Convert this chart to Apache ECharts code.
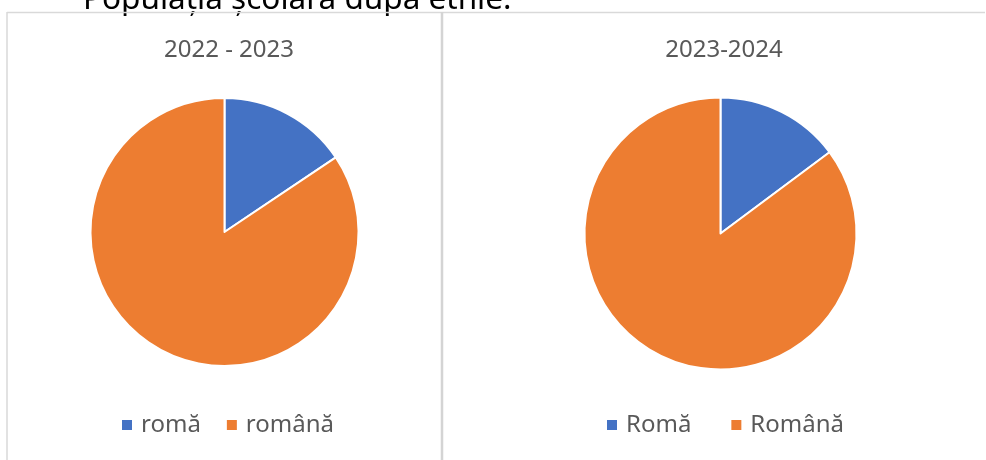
<!DOCTYPE html>
<html>
<head>
<meta charset="utf-8">
<script src="https://cdn.jsdelivr.net/npm/echarts@6/dist/echarts.min.js"></script>
<style>
  html, body { margin: 0; padding: 0; background: #fff; }
  #chart { width: 986px; height: 460px; }
</style>
</head>
<body>
<div id="chart"></div>
<script>
// date (procente estimate)
var mainTitle = 'Populația școlară după etnie.';
var titles = ['2022 - 2023', '2023-2024'];
var names2022 = ['romă', 'română'];
var values2022 = [15.6, 84.4];
var names2023 = ['Romă', 'Română'];
var values2023 = [14.8, 85.2];
var colors = ['#4472C4', '#ED7D31'];

function toData(names, values) {
    var out = [];
    for (var i = 0; i < names.length; i++) {
        out.push({ name: names[i], value: values[i] });
    }
    return out;
}

var font = '"Noto Sans", "DejaVu Sans", sans-serif';
var _chart = echarts.init(document.getElementById('chart'));
var legendText = { color: '#595959', fontSize: 24, fontFamily: font, padding: [0, 0, 0, 3] };
var option = {
    animation: false,
    color: colors,
    textStyle: { fontFamily: font },
    title: [{
        text: titles[0],
        left: 224,
        top: 33,
        textAlign: 'center',
        textStyle: { color: '#595959', fontSize: 24, fontWeight: 'normal', fontFamily: font }
    }, {
        text: titles[1],
        left: 719,
        top: 33,
        textAlign: 'center',
        textStyle: { color: '#595959', fontSize: 24, fontWeight: 'normal', fontFamily: font }
    }],
    legend: [{
        data: names2022,
        left: 115,
        top: 408,
        icon: 'rect',
        itemWidth: 12,
        itemHeight: 12,
        itemGap: 24,
        textStyle: legendText
    }, {
        data: names2023,
        left: 600,
        top: 408,
        icon: 'rect',
        itemWidth: 12,
        itemHeight: 12,
        itemGap: 38,
        textStyle: legendText
    }],
    graphic: [{
        type: 'text',
        left: 83,
        top: -16,
        style: { text: mainTitle, fill: '#000', font: '31.5px ' + font }
    }, {
        type: 'line',
        shape: { x1: 7, y1: 12.5, x2: 985, y2: 12.5 },
        style: { stroke: '#d9d9d9', lineWidth: 1.5 }
    }, {
        type: 'line',
        shape: { x1: 7, y1: 12, x2: 7, y2: 460 },
        style: { stroke: '#d9d9d9', lineWidth: 1.5 }
    }, {
        type: 'line',
        shape: { x1: 442, y1: 12, x2: 442, y2: 460 },
        style: { stroke: '#d4d4d4', lineWidth: 2.5 }
    }],
    series: [{
        name: titles[0],
        type: 'pie',
        center: [224.5, 232],
        radius: 134,
        startAngle: 90,
        clockwise: true,
        label: { show: false },
        labelLine: { show: false },
        itemStyle: { borderColor: '#fff', borderWidth: 2 },
        emphasis: { disabled: true },
        data: toData(names2022, values2022)
    }, {
        name: titles[1],
        type: 'pie',
        center: [720.5, 233.5],
        radius: 136,
        startAngle: 90,
        clockwise: true,
        label: { show: false },
        labelLine: { show: false },
        itemStyle: { borderColor: '#fff', borderWidth: 2 },
        emphasis: { disabled: true },
        data: toData(names2023, values2023)
    }]
};
_chart.setOption(option);
</script>
</body>
</html>
